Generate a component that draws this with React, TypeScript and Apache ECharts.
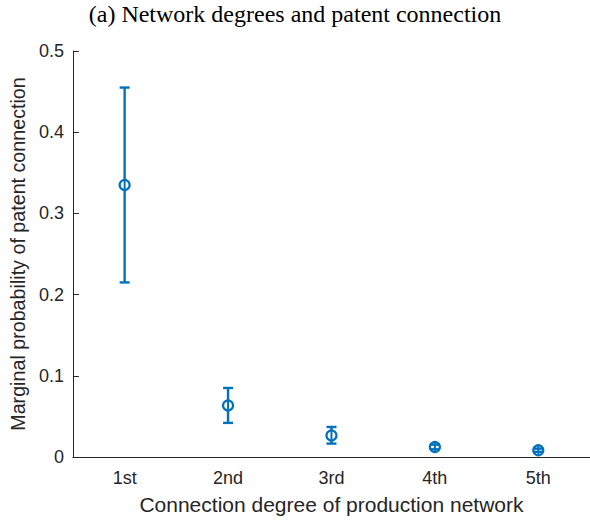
import React, { useEffect, useRef } from "react";
import * as echarts from "echarts";

const categories = ["1st", "2nd", "3rd", "4th", "5th"];
const means = [0.335, 0.0635, 0.0265, 0.0123, 0.0083];
const lowers = [0.215, 0.042, 0.0165, 0.0095, 0.0063];
const uppers = [0.455, 0.085, 0.037, 0.0152, 0.0103];
const yTicks = [0, 0.1, 0.2, 0.3, 0.4, 0.5];

const title = "(a) Network degrees and patent connection";
const xName = "Connection degree of production network";
const yName = "Marginal probability of patent connection";

const COLOR = "#0072BD";
const AXIS = "#262626";

export default function App() {
  const ref = useRef<HTMLDivElement>(null);
  useEffect(() => {
    if (!ref.current) return;
    const chart = echarts.init(ref.current, null, { renderer: "svg" });
    const data = categories.map((_, i) => [i, lowers[i], uppers[i], means[i]]);
    chart.setOption({
      animation: false,
      backgroundColor: "#ffffff",
      title: {
        text: title,
        left: "center",
        top: -3,
        textStyle: {
          fontFamily: "Liberation Serif",
          fontWeight: "normal",
          fontSize: 24,
          color: "#000000",
        },
      },
      grid: { left: 72, right: -4, top: 51, bottom: 63 },
      xAxis: {
        type: "category",
        data: categories,
        name: xName,
        nameLocation: "middle",
        nameGap: 37,
        nameTextStyle: { fontFamily: "Liberation Sans", fontSize: 21, color: AXIS },
        axisLine: { lineStyle: { color: AXIS, width: 1 } },
        axisTick: { inside: true, alignWithLabel: true, length: 6, lineStyle: { color: AXIS } },
        axisLabel: { fontFamily: "Liberation Sans", fontSize: 18, color: AXIS, margin: 12 },
        splitLine: { show: false },
      },
      yAxis: {
        type: "value",
        min: yTicks[0],
        max: yTicks[yTicks.length - 1],
        interval: 0.1,
        name: yName,
        nameLocation: "middle",
        nameGap: 40,
        nameTextStyle: { fontFamily: "Liberation Sans", fontSize: 19.7, color: AXIS },
        axisLine: { show: true, lineStyle: { color: AXIS, width: 1 } },
        axisTick: { show: true, inside: true, length: 6, lineStyle: { color: AXIS } },
        axisLabel: { fontFamily: "Liberation Sans", fontSize: 18, color: AXIS, margin: 9 },
        splitLine: { show: false },
      },
      series: [
        {
          type: "custom",
          data,
          encode: { x: 0, y: [1, 2, 3] },
          renderItem: (params: any, api: any) => {
            const x = api.value(0);
            const lo = api.coord([x, api.value(1)]);
            const hi = api.coord([x, api.value(2)]);
            const mid = api.coord([x, api.value(3)]);
            const cap = 5;
            const r = 5;
            const style = { stroke: COLOR, lineWidth: 2.4, fill: null };
            return {
              type: "group",
              children: [
                { type: "line", shape: { x1: hi[0], y1: hi[1], x2: hi[0], y2: Math.max(hi[1], mid[1] - r) }, style },
                { type: "line", shape: { x1: lo[0], y1: Math.min(lo[1], mid[1] + r), x2: lo[0], y2: lo[1] }, style },
                { type: "line", shape: { x1: hi[0] - cap, y1: hi[1], x2: hi[0] + cap, y2: hi[1] }, style },
                { type: "line", shape: { x1: lo[0] - cap, y1: lo[1], x2: lo[0] + cap, y2: lo[1] }, style },
                { type: "circle", shape: { cx: mid[0], cy: mid[1], r }, style: { stroke: COLOR, lineWidth: 2.2, fill: "rgba(0,0,0,0)" } },
                { type: "line", shape: { x1: mid[0], y1: mid[1] - r, x2: mid[0], y2: mid[1] + r }, style: { stroke: COLOR, lineWidth: 2, fill: null } },
              ],
            };
          },
        },
      ],
    });
    return () => chart.dispose();
  }, []);
  return (
    <div
      ref={ref}
      style={{ position: "fixed", left: 0, top: 0, width: 590, height: 520, background: "#fff" }}
    />
  );
}
